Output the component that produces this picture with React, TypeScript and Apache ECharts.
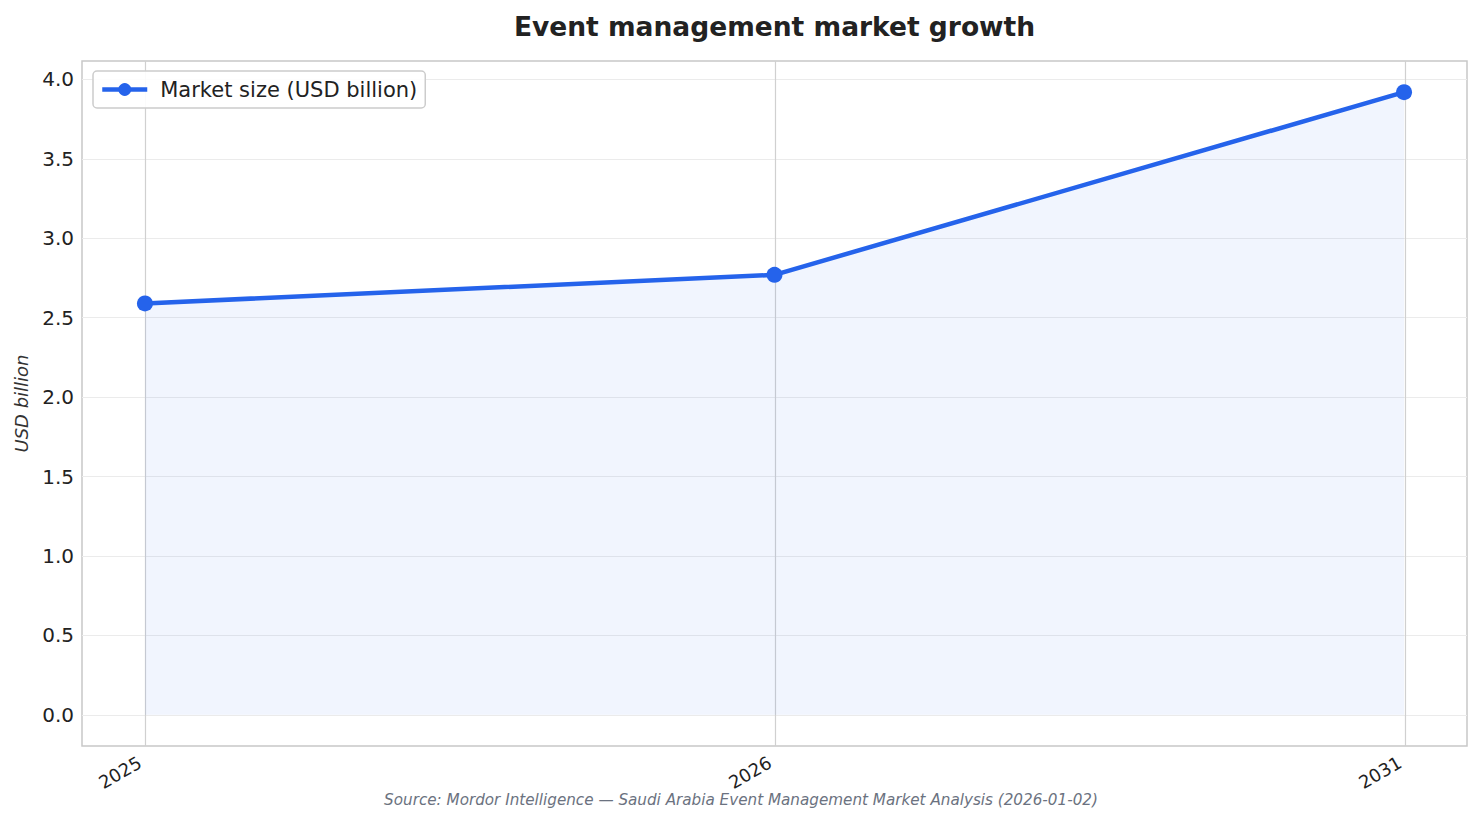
import { useEffect, useRef } from 'react'
import * as echarts from 'echarts'

const years = ['2025', '2026', '2031']
const marketSize = [2.59, 2.77, 3.92]

const FONT = 'DejaVu Sans, Verdana, sans-serif'

export default function App() {
  const chartRef = useRef<HTMLDivElement | null>(null)

  useEffect(() => {
    if (!chartRef.current) return
    const chart = echarts.init(chartRef.current, undefined, { renderer: 'svg' })

    // plot frame and value range (matplotlib-like 5% margins)
    const frameLeft = 82
    const frameWidth = 1385
    const frameTop = 61
    const frameHeight = 685
    const yMin = -0.196
    const yMax = 4.116
    const pxPerUnit = frameHeight / (yMax - yMin)
    const tickTop = frameTop + (yMax - 4) * pxPerUnit
    const tickHeight = 4 * pxPerUnit

    chart.setOption({
      animation: false,
      backgroundColor: '#ffffff',
      textStyle: { fontFamily: FONT },
      legend: {
        left: 93,
        top: 71,
        padding: [8, 8, 8, 7],
        itemWidth: 45,
        itemHeight: 16,
        borderColor: '#cccccc',
        borderWidth: 1.5,
        borderRadius: 4,
        backgroundColor: 'rgba(255,255,255,0.9)',
        lineStyle: { width: 4.5 },
        textStyle: { fontSize: 21, color: '#222222', fontFamily: FONT, padding: [0, 0, 0, 8] },
        data: ['Market size (USD billion)']
      },
      grid: [
        {
          left: frameLeft,
          width: frameWidth,
          top: frameTop,
          height: frameHeight,
          show: true,
          borderColor: '#c8c8c8',
          borderWidth: 1.5,
          backgroundColor: 'transparent'
        },
        {
          // category positions: x ticks and vertical gridlines
          left: 145,
          width: 1260,
          top: frameTop,
          height: frameHeight,
          show: false
        },
        {
          // y ticks 0..4 and horizontal gridlines
          left: frameLeft,
          width: frameWidth,
          top: tickTop,
          height: tickHeight,
          show: false
        }
      ],
      xAxis: [
        { type: 'value', gridIndex: 0, min: -0.1, max: 2.1, show: false },
        {
          type: 'value',
          gridIndex: 1,
          min: 0,
          max: 2,
          interval: 1,
          axisLine: { show: false },
          axisTick: { show: false },
          axisLabel: {
            rotate: 30,
            fontSize: 18,
            color: '#222222',
            fontFamily: FONT,
            margin: 12,
            padding: [0, 6, 0, 0],
            formatter: (v: number) => years[Math.round(v)] ?? ''
          },
          splitLine: { show: true, lineStyle: { color: '#d0d0d0', width: 1.2 } }
        },
        { type: 'value', gridIndex: 2, show: false }
      ],
      yAxis: [
        {
          type: 'value',
          gridIndex: 0,
          min: yMin,
          max: yMax,
          name: 'USD billion',
          nameLocation: 'middle',
          nameGap: 52,
          nameTextStyle: { fontSize: 18, fontStyle: 'italic', color: '#333333', fontFamily: FONT },
          axisLine: { show: false },
          axisTick: { show: false },
          axisLabel: { show: false },
          splitLine: { show: false }
        },
        { type: 'value', gridIndex: 1, min: yMin, max: yMax, show: false },
        {
          type: 'value',
          gridIndex: 2,
          min: 0,
          max: 4,
          interval: 0.5,
          axisLine: { show: false },
          axisTick: { show: false },
          axisLabel: {
            fontSize: 20,
            color: '#222222',
            fontFamily: FONT,
            margin: 8,
            formatter: (v: number) => v.toFixed(1)
          },
          splitLine: { show: true, lineStyle: { color: '#ebebeb', width: 1.2 } }
        }
      ],
      series: [
        {
          name: 'Market size (USD billion)',
          type: 'line',
          xAxisIndex: 0,
          yAxisIndex: 0,
          data: marketSize.map((v, i) => [i, v]),
          symbol: 'circle',
          symbolSize: 16,
          lineStyle: { color: '#2563eb', width: 4.5 },
          itemStyle: { color: '#2563eb' },
          areaStyle: { color: 'rgba(37, 99, 235, 0.09)', origin: 0 },
          z: 3
        }
      ],
      graphic: [
        {
          type: 'text',
          x: frameLeft + frameWidth / 2,
          y: 13,
          style: {
            text: 'Event management market growth',
            textAlign: 'center',
            fontSize: 26.5,
            fontWeight: 'bold',
            fill: '#222222',
            fontFamily: FONT
          }
        },
        {
          type: 'text',
          left: 'center',
          top: 792,
          style: {
            text: 'Source: Mordor Intelligence — Saudi Arabia Event Management Market Analysis (2026-01-02)',
            fontSize: 15.2,
            fontStyle: 'italic',
            fill: '#6b7280',
            fontFamily: FONT
          }
        }
      ]
    })

    return () => {
      chart.dispose()
    }
  }, [])

  return (
    <div
      ref={chartRef}
      style={{ position: 'fixed', left: 0, top: 0, width: 1482, height: 824 }}
    />
  )
}
